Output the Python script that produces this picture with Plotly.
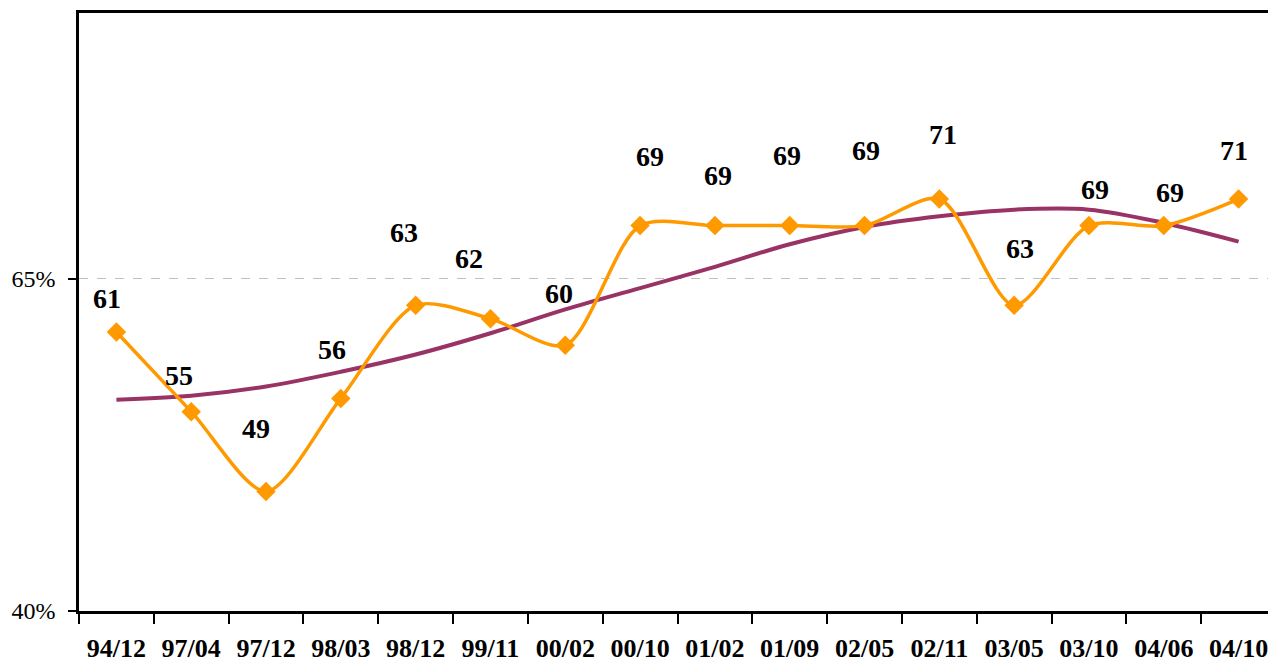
# Smoothed share line with polynomial trend, Excel-style

import plotly.graph_objects as go

#----------------------------------------------------------
# Data

periods = ["94/12", "97/04", "97/12", "98/03", "98/12", "99/11", "00/02", "00/10",
           "01/02", "01/09", "02/05", "02/11", "03/05", "03/10", "04/06", "04/10"]
share = [61, 55, 49, 56, 63, 62, 60, 69, 69, 69, 69, 71, 63, 69, 69, 71]
trend = [55.9, 56.2, 56.9, 58.0, 59.3, 60.9, 62.7, 64.3, 65.9, 67.6,
         68.9, 69.7, 70.2, 70.2, 69.2, 67.8]

# label offsets in pixels (x, y), as placed in the original
label_dx = [-9, -12, -10, -9, -12, -21, -6, 10, 3, -3, 1, 4, 6, 6, 6, -5]
label_dy = [33, 36, 63, 49, 73, 60, 52, 69, 50, 70, 75, 65, 57, 36, 33, 49]

serif = "Liberation Serif, Times New Roman, serif"

#----------------------------------------------------------
# Traces

trace_share = go.Scatter(
    x=periods, y=share,
    mode="lines+markers",
    line=dict(color="#FF9900", width=3.5, shape="spline", smoothing=0.8),
    marker=dict(symbol="diamond", size=15, color="#FF9900"),
    showlegend=False,
    hoverinfo="skip",
)

trace_trend = go.Scatter(
    x=periods, y=trend,
    mode="lines",
    line=dict(color="#993366", width=4, shape="spline"),
    showlegend=False,
    hoverinfo="skip",
)

annotations = []
for p, v, dx, dy in zip(periods, share, label_dx, label_dy):
    annotations.append(dict(
        x=p, y=v, text="<b>%d</b>" % v, showarrow=False,
        xshift=dx, yshift=dy,
        font=dict(family=serif, size=28, color="black"),
    ))

layout = go.Layout(
    width=1276, height=663,
    margin=dict(l=71, r=8, t=2, b=60),
    paper_bgcolor="white",
    plot_bgcolor="white",
    xaxis=dict(
        type="category",
        range=[-0.5, 15.5],
        showline=True, linecolor="black", linewidth=2.5, mirror=True,
        ticks="outside", tickson="boundaries", ticklen=10, tickwidth=2, tickcolor="black",
        showgrid=False,
        tickfont=dict(family=serif, size=26, color="black"),
        tickprefix="<b>", ticksuffix="</b>",
        ticklabelstandoff=12,
    ),
    yaxis=dict(
        range=[40, 85],
        tickvals=[40, 65],
        ticktext=["40%", "65%"],
        showline=True, linecolor="black", linewidth=2.5,
        ticks="outside", ticklen=8, tickwidth=2, tickcolor="black",
        showgrid=True, gridcolor="#c0c0c0", griddash="dash", gridwidth=1,
        zeroline=False,
        tickfont=dict(family=serif, size=24, color="black"),
        ticklabelstandoff=8,
    ),
    annotations=annotations,
)

fig = go.Figure(data=[trace_trend, trace_share], layout=layout)
fig.write_html("out.html")
